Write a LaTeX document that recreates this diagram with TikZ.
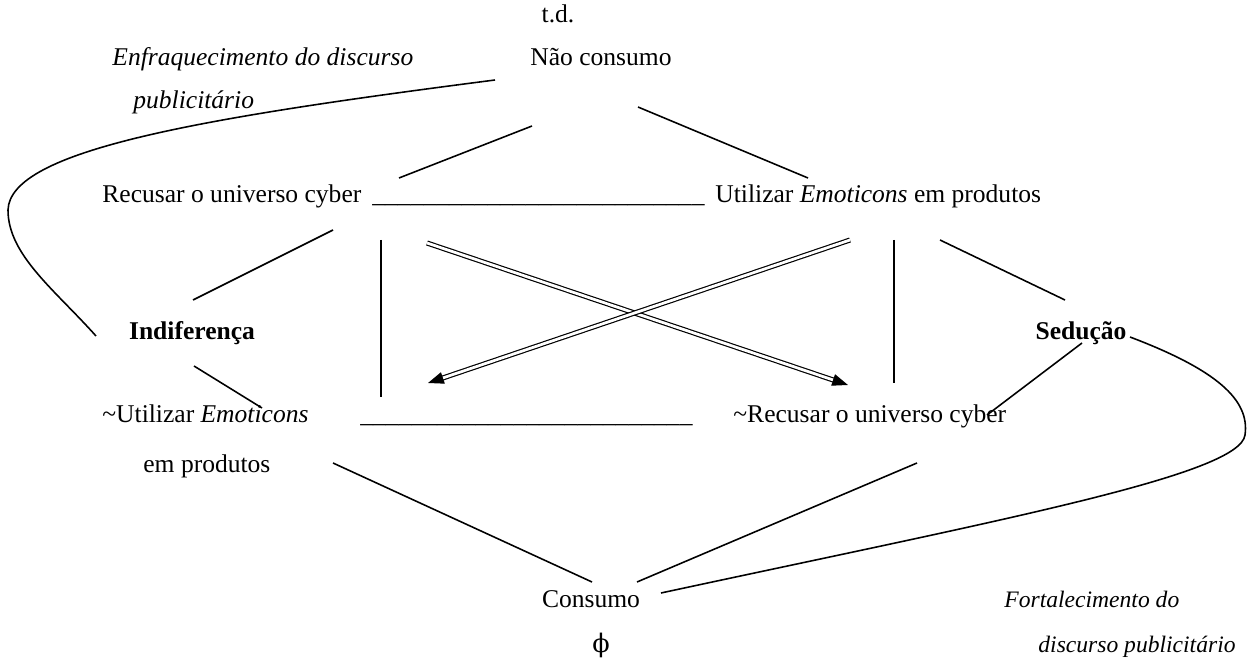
\documentclass[tikz,border=0pt]{standalone}
\usepackage{fontspec}
\setmainfont{Liberation Serif}
\newfontfamily\simb{DejaVu Serif}
\usetikzlibrary{arrows.meta,calc}

\newcommand{\tracos}{\_\_\_\_\_\_\_\_\_\_\_\_\_\_\_\_\_\_\_\_\_\_\_\_\_\_}

\begin{document}
\begin{tikzpicture}[x=0.01789cm, y=-0.01789cm,
    txt/.style={inner sep=0pt, font=\fontsize{13}{15}\selectfont},
    nota/.style={inner sep=0pt, font=\fontsize{12}{14}\selectfont\itshape},
    lig/.style={line width=0.8pt},
    dupla/.style={line width=0.6pt, double, double distance=1.4pt, -{Triangle[length=8pt,width=6pt]}}]

    \useasboundingbox (0,0) rectangle (1247,658);

    % topo
    \node[txt, anchor=base] at (558,23) (td) {t.d.};
    \node[txt, anchor=base west] at (112,66) (enf) {\textit{Enfraquecimento do discurso}};
    \node[txt, anchor=base west] at (133,109) (pub) {\textit{publicitário}};
    \node[txt, anchor=base] at (601,66) (nao) {Não consumo};

    % linha dos contrarios
    \node[txt, anchor=base west] at (102,203) (recusar) {Recusar o universo cyber};
    \node[txt, anchor=base west] at (372,203) (traco1) {\tracos};
    \node[txt, anchor=base west] at (715,203) (utilizar) {Utilizar \textit{Emoticons} em produtos};

    \node[txt, anchor=base] at (192,340) (ind) {\textbf{Indiferença}};
    \node[txt, anchor=base] at (1081,340) (sed) {\textbf{Sedução}};

    % linha dos subcontrarios
    \node[txt, anchor=base west] at (102,423) (nutil) {\textasciitilde Utilizar \textit{Emoticons}};
    \node[txt, anchor=base west] at (143,472) (emprod) {em produtos};
    \node[txt, anchor=base west] at (360,423) (traco2) {\tracos};
    \node[txt, anchor=base west] at (733,423) (nrec) {\textasciitilde Recusar o universo cyber};

    % base
    \node[txt, anchor=base] at (591,607) (consumo) {Consumo};
    \node[txt, anchor=base] at (601,652) (phi) {{\simb ϕ}};
    \node[nota, anchor=base west] at (1004,607) (fort) {Fortalecimento do};
    \node[nota, anchor=base west] at (1038,652) (disc) {discurso publicitário};

    \draw[lig] ($(nao.base)+(-69,60)$) -- ($(recusar.base west)+(297,-25)$);
    \draw[lig] ($(nao.base)+(37,41)$) -- ($(utilizar.base west)+(93,-25)$);

    \draw[lig] ($(recusar.base west)+(231,27)$) -- ($(ind.base)+(1,-40)$);
    \draw[lig] ($(recusar.base west)+(279,37)$) -- ($(nutil.base west)+(279,-26)$);
    \draw[dupla] ($(recusar.base west)+(325,40)$) -- ($(nrec.base west)+(115,-38)$);
    \draw[dupla] ($(utilizar.base west)+(135,37)$) -- ($(nutil.base west)+(326,-40)$);
    \draw[lig] ($(utilizar.base west)+(179,37)$) -- ($(nrec.base west)+(161,-40)$);
    \draw[lig] ($(utilizar.base west)+(225,37)$) -- ($(sed.base)+(-16,-40)$);

    \draw[lig] ($(ind.base)+(2,26)$) -- ($(nutil.base west)+(160,-15)$);
    \draw[lig] ($(sed.base)+(1,3)$) -- ($(nrec.base west)+(254,-8)$);

    \draw[lig] ($(emprod.base west)+(190,-9)$) -- ($(consumo.base)+(1,-25)$);
    \draw[lig] ($(nrec.base west)+(184,40)$) -- ($(consumo.base)+(46,-25)$);

    % curvas
    \draw[lig] ($(nao.base)+(-106,14)$) .. controls +(-295,38) and +(2,-60) .. (8,210)
        .. controls +(0,45) and +(-41,-46) .. ($(ind.base)+(-96,-4)$);
    \draw[lig] ($(sed.base)+(49,-3)$) .. controls +(87,33) and +(5,-35) .. (1245,435)
        .. controls +(-5,40) and +(339,-73) .. ($(consumo.base)+(70,-14)$);
\end{tikzpicture}
\end{document}
